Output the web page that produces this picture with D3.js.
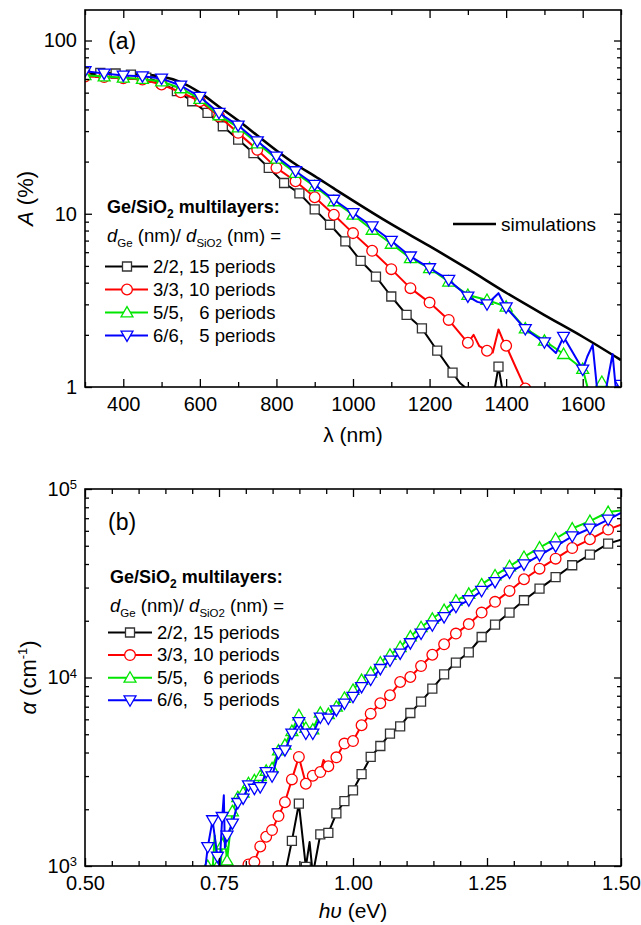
<!DOCTYPE html>
<html>
<head>
<meta charset="utf-8">
<script src="https://cdnjs.cloudflare.com/ajax/libs/d3/7.8.5/d3.min.js"></script>
<style>
  body { margin: 0; background: #fff; }
  text { font-family: "Liberation Sans", Arial, Helvetica, sans-serif; }
</style>
</head>
<body>
<div id="chart"></div>
<script>
var svgWidth = 641;
var svgHeight = 925;

// ---------- panel (a): A (%) vs wavelength (nm) ----------
var lambda40 = [300, 340, 380, 420, 460, 500, 540, 580, 620, 660, 700, 740, 780, 820, 860, 900,
  940, 980, 1020, 1060, 1100, 1140, 1180, 1220, 1260, 1300, 1340, 1380, 1420];
var lambda50 = [300, 350, 400, 450, 500, 550, 600, 650, 700, 750, 800, 850, 900, 950, 1000, 1050,
  1100, 1150, 1200, 1250, 1300, 1350, 1400, 1450, 1500, 1550, 1600, 1650, 1700];

var absA22 = [64, 65, 64.5, 63.5, 61, 57, 51, 44.6, 38.2, 32.0, 26.8, 22.4, 18.4, 15.05, 13.1, 10.6,
  8.64, 6.92, 5.35, 4.34, 3.33, 2.61, 2.18, 1.62, 1.21, 0.9, 0.9, 1.31, 0.9];
var absA33 = [62, 61.5, 60.5, 59.5, 55.7, 50.3, 44.6, 36.5, 29.3, 23.4, 18.4, 15.4, 12.45, 9.87, 7.73, 6.11,
  4.79, 3.72, 3.07, 2.44, 1.80, 1.62, 1.73, 0.98, null, null, null, null, null];
var absA55 = [63, 62, 61, 60, 58, 53, 46, 37, 31.5, 25.5, 20.8, 17.2, 14.4, 11.8, 9.87, 8.08,
  6.71, 5.54, 4.85, 4.06, 3.40, 3.18, 2.91, 2.18, 1.85, 1.55, 1.27, 1.07, null];
var absA66 = [66.5, 64.5, 62.8, 62.2, 60.3, 55.0, 47.3, 38.2, 32.3, 26.2, 21.4, 17.6, 14.7, 12.05, 10.1, 8.45,
  6.98, 5.67, 4.85, 4.15, 3.33, 3.0, 2.88, 2.16, 1.81, 1.95, 1.26, 0.9, 1.03];

// line-only points (spikes between markers)
var extraA22 = [[1280, 1.05], [1292, 1.0], [1370, 0.97], [1390, 0.97]];
var extraA33 = [[1315, 2.0], [1330, 1.72], [1365, 1.58], [1380, 2.15], [1390, 1.9], [1425, 1.3], [1440, 1.1], [1460, 0.9]];
var extraA55 = [[1614, 0.97], [1630, 0.95], [1665, 0.95]];
var extraA66 = [[1325, 3.1], [1380, 3.48], [1530, 1.57], [1612, 1.5], [1626, 1.75], [1637, 1.0],
  [1660, 0.95], [1678, 1.55], [1686, 1.0]];

var simLambda = [300, 350, 400, 450, 500, 550, 600, 650, 700, 750, 800, 850, 900, 950, 1000, 1100,
  1200, 1300, 1400, 1500, 1600, 1700];
var simAbs = [64, 64.5, 64, 63.5, 62, 57.5, 50, 41.5, 34.5, 28.3, 23.2, 19.3, 16.5, 14.0, 11.9, 8.7,
  6.5, 4.8, 3.5, 2.6, 1.95, 1.43];

// ---------- panel (b): alpha (cm-1) vs photon energy (eV) ----------
var energyB = [0.729, 0.738, 0.747, 0.756, 0.765, 0.775, 0.785, 0.795, 0.805, 0.816, 0.827, 0.838,
  0.849, 0.861, 0.873, 0.886, 0.899, 0.912, 0.925, 0.939, 0.954, 0.969, 0.984, 1.000, 1.016, 1.033,
  1.051, 1.069, 1.088, 1.107, 1.127, 1.148, 1.170, 1.192, 1.216, 1.240, 1.265, 1.292, 1.319, 1.348,
  1.378, 1.409, 1.442, 1.476];

var alphaB22 = [null, null, null, null, null, null, null, null, null, null, null, null, null, null,
  900, 1360, 2140, 990, 900, 1470, 1500, 1900, 2210, 2520, 3070, 3790, 4330, 5040, 5510, 6480,
  7450, 8730, 10400, 12000, 13600, 16400, 19100, 22100, 25700, 29600, 34100, 39400, 44900, 51300];
var alphaB33 = [null, null, null, null, null, null, null, 930, 1020, 1050, 1270, 1430, 1550, 1840,
  2180, 2880, 3790, 2730, 3010, 3150, 3380, 3770, 4460, 4600, 5580, 6430, 7300, 8050, 9460, 10060,
  11500, 13200, 15000, 17100, 19200, 22100, 25200, 28800, 33200, 37800, 42700, 48600, 54100, 60900];
var alphaB55 = [1000, 950, 1000, 1300, 1070, 1950, 2320, 2450, 2750, 2850, 3000, 3200, 3300, 4100,
  4400, 5200, 6300, 5400, 5300, 6500, 6400, 7000, 7800, 8600, 9700, 10600, 12000, 13200, 14500, 16500,
  18500, 20500, 22800, 25600, 27800, 31200, 34800, 38900, 43600, 48900, 54500, 61700, 67600, 75500];
var alphaB66 = [1260, 1750, 1120, 1820, 1450, 1680, 2160, 2280, 2680, 2570, 2620, 3150, 2990, 3970,
  4110, 5040, 5800, 5040, 5040, 6130, 6050, 6700, 7270, 7900, 8900, 9740, 11100, 12300, 13400, 15200,
  17100, 18900, 20900, 23700, 25700, 28800, 32100, 36000, 39800, 44500, 49700, 56100, 61700, 68800];

var extraB22 = [[0.919, 1340], [1.5, 53900]];
var extraB33 = [[0.945, 3650], [1.5, 64700]];
var extraB55 = [[0.742, 1450], [0.752, 950], [0.760, 1500], [1.5, 77000]];
var extraB66 = [[0.724, 950], [0.751, 980], [0.759, 2370], [0.761, 1250], [1.5, 74600]];

var legendNames = ["2/2, 15 periods", "3/3, 10 periods", "5/5,\u00a0\u00a0\u00a06 periods", "6/6,\u00a0\u00a0\u00a05 periods"];
var lineColors = ["#000000", "#ff0000", "#00e600", "#0000ff"];
var markColors = ["#333333", "#ff0000", "#00e600", "#0000ff"];
var markTypes = ["square", "circle", "up", "down"];

var svg = d3.select("#chart")
  .append("svg")
  .attr("width", svgWidth)
  .attr("height", svgHeight);

var defs = svg.append("defs");

function makeSeries(xs, ys, extra) {
  var pts = [];
  xs.forEach(function(x, i) {
    if (ys[i] != null) pts.push({x: x, y: ys[i], m: true});
  });
  extra.forEach(function(p) { pts.push({x: p[0], y: p[1], m: false}); });
  pts.sort(function(a, b) { return a.x - b.x; });
  return pts;
}

var symSquare = d3.symbol().type(d3.symbolSquare).size(81);
var symCircle = d3.symbol().type(d3.symbolCircle).size(90);
var symTri = d3.symbol().type(d3.symbolTriangle).size(62);

function addMarker(g, type, cx, cy, color) {
  var p = g.append("path")
    .attr("fill", "#fff")
    .attr("stroke", color)
    .attr("stroke-width", 1.3);
  if (type == "square") p.attr("d", symSquare()).attr("transform", `translate(${cx},${cy})`);
  if (type == "circle") p.attr("d", symCircle()).attr("transform", `translate(${cx},${cy})`);
  if (type == "up") p.attr("d", symTri()).attr("transform", `translate(${cx},${cy + 1})`);
  if (type == "down") p.attr("d", symTri()).attr("transform", `translate(${cx},${cy - 1}) rotate(180)`);
}

function drawFrame(g, x, y, w, h, xMajor, xMinor, yMajor, yMinor, xFmt) {
  var tickFont = 20;
  // bottom
  var bMin = g.append("g").attr("transform", `translate(0,${h})`)
    .call(d3.axisBottom(x).tickValues(xMinor).tickSize(-5).tickFormat(""));
  var bMaj = g.append("g").attr("transform", `translate(0,${h})`)
    .call(d3.axisBottom(x).tickValues(xMajor).tickSize(-8).tickPadding(10).tickFormat(xFmt));
  bMaj.selectAll("text").attr("font-size", tickFont).attr("font-family", null);
  // top
  var tMin = g.append("g").call(d3.axisTop(x).tickValues(xMinor).tickSize(-5).tickFormat(""));
  var tMaj = g.append("g").call(d3.axisTop(x).tickValues(xMajor).tickSize(-8).tickFormat(""));
  // left
  var lMin = g.append("g").call(d3.axisLeft(y).tickValues(yMinor).tickSize(-4).tickFormat(""));
  var lMaj = g.append("g").call(d3.axisLeft(y).tickValues(yMajor).tickSize(-7).tickPadding(8));
  lMaj.selectAll("text").attr("font-size", tickFont).attr("font-family", null);
  // right
  var rMin = g.append("g").attr("transform", `translate(${w},0)`)
    .call(d3.axisRight(y).tickValues(yMinor).tickSize(-4).tickFormat(""));
  var rMaj = g.append("g").attr("transform", `translate(${w},0)`)
    .call(d3.axisRight(y).tickValues(yMajor).tickSize(-7).tickFormat(""));

  [bMin, bMaj, tMin, tMaj, lMin, lMaj, rMin, rMaj].forEach(function(a) {
    a.select(".domain").remove();
    a.selectAll("line").attr("stroke-width", 1.3);
  });

  g.append("rect")
    .attr("width", w)
    .attr("height", h)
    .attr("fill", "none")
    .attr("stroke", "#000")
    .attr("stroke-width", 1.6);
  return lMaj;
}

function drawData(g, clipId, x, y, seriesList) {
  var plot = g.append("g").attr("clip-path", `url(#${clipId})`);
  var line = d3.line().x(d => x(d.x)).y(d => y(d.y));
  seriesList.forEach(function(s, i) {
    plot.append("path")
      .datum(s)
      .attr("fill", "none")
      .attr("stroke", lineColors[i])
      .attr("stroke-width", 2)
      .attr("stroke-linejoin", "round")
      .attr("d", line);
    s.filter(d => d.m).forEach(function(d) {
      addMarker(plot, markTypes[i], x(d.x), y(d.y), markColors[i]);
    });
  });
  return plot;
}

function drawLegend(left, top, lineX0, lineX1, markX, textX, rowBase, rowGap) {
  var t1 = svg.append("text")
    .attr("x", left).attr("y", top)
    .attr("font-size", 18).attr("font-weight", "bold");
  t1.append("tspan").text("Ge/SiO");
  t1.append("tspan").attr("font-size", 12).attr("dy", 5).text("2");
  t1.append("tspan").attr("dy", -5).text(" multilayers:");

  var t2 = svg.append("text")
    .attr("x", left).attr("y", top + 29)
    .attr("font-size", 18.5);
  t2.append("tspan").attr("font-style", "italic").text("d");
  t2.append("tspan").attr("font-size", 11.5).attr("dy", 5).text("Ge");
  t2.append("tspan").attr("dy", -5).text(" (nm)/ ");
  t2.append("tspan").attr("font-style", "italic").text("d");
  t2.append("tspan").attr("font-size", 11.5).attr("dy", 5).text("SiO2");
  t2.append("tspan").attr("dy", -5).text(" (nm) =");

  legendNames.forEach(function(name, i) {
    var by = rowBase + i * rowGap;
    var ly = by - 6;
    svg.append("line")
      .attr("x1", lineX0).attr("x2", lineX1)
      .attr("y1", ly).attr("y2", ly)
      .attr("stroke", lineColors[i]).attr("stroke-width", 2);
    addMarker(svg, markTypes[i], markX, ly, markColors[i]);
    svg.append("text")
      .attr("x", textX).attr("y", by)
      .attr("font-size", 18.5)
      .text(name);
  });
}

// ================= panel (a) =================
var marginA = {left: 85, top: 10};
var widthA = 536, heightA = 377;
var gA = svg.append("g").attr("transform", `translate(${marginA.left}, ${marginA.top})`);
defs.append("clipPath").attr("id", "clipA").append("rect").attr("width", widthA).attr("height", heightA);

var xA = d3.scaleLinear().domain([300, 1700]).range([0, widthA]);
var yA = d3.scaleLog().domain([1, 150]).range([heightA, 0]);

var seriesA = [
  makeSeries(lambda40, absA22, extraA22),
  makeSeries(lambda50, absA33, extraA33),
  makeSeries(lambda50, absA55, extraA55),
  makeSeries(lambda50, absA66, extraA66)
];
var simSeries = simLambda.map((l, i) => ({x: l, y: simAbs[i]}));

var plotA = gA.append("g").attr("clip-path", "url(#clipA)");
plotA.append("path")
  .datum(simSeries)
  .attr("fill", "none")
  .attr("stroke", "#000")
  .attr("stroke-width", 2.6)
  .attr("d", d3.line().x(d => xA(d.x)).y(d => yA(d.y)).curve(d3.curveMonotoneX));
drawData(gA, "clipA", xA, yA, seriesA);

drawFrame(gA, xA, yA, widthA, heightA,
  [400, 600, 800, 1000, 1200, 1400, 1600],
  [300, 500, 700, 900, 1100, 1300, 1500, 1700],
  [1, 10, 100],
  [2, 3, 4, 5, 6, 7, 8, 9, 20, 30, 40, 50, 60, 70, 80, 90],
  d3.format("d"));

gA.append("text")
  .attr("x", 23).attr("y", 39)
  .attr("font-size", 23)
  .text("(a)");

svg.append("text")
  .attr("transform", `translate(${marginA.left + widthA / 2}, 442)`)
  .attr("text-anchor", "middle")
  .attr("font-size", 21)
  .text("\u03bb (nm)");

var yTitleA = svg.append("text")
  .attr("transform", `translate(33, ${marginA.top + heightA / 2}) rotate(-90)`)
  .attr("text-anchor", "middle")
  .attr("font-size", 22);
yTitleA.append("tspan").attr("font-style", "italic").text("A");
yTitleA.append("tspan").text(" (%)");

drawLegend(107, 213, 105, 148, 127, 153, 272.5, 23);

svg.append("line")
  .attr("x1", 453).attr("x2", 496)
  .attr("y1", 224).attr("y2", 224)
  .attr("stroke", "#000").attr("stroke-width", 2.4);
svg.append("text")
  .attr("x", 501).attr("y", 231)
  .attr("font-size", 19)
  .text("simulations");

// ================= panel (b) =================
var marginB = {left: 85, top: 489};
var widthB = 536, heightB = 377;
var gB = svg.append("g").attr("transform", `translate(${marginB.left}, ${marginB.top})`);
defs.append("clipPath").attr("id", "clipB").append("rect").attr("width", widthB).attr("height", heightB);

var xB = d3.scaleLinear().domain([0.5, 1.5]).range([0, widthB]);
var yB = d3.scaleLog().domain([1000, 100000]).range([heightB, 0]);

var seriesB = [
  makeSeries(energyB, alphaB22, extraB22),
  makeSeries(energyB, alphaB33, extraB33),
  makeSeries(energyB, alphaB55, extraB55),
  makeSeries(energyB, alphaB66, extraB66)
];
drawData(gB, "clipB", xB, yB, seriesB);

var minorB = [];
[1000, 10000].forEach(function(dec) {
  [2, 3, 4, 5, 6, 7, 8, 9].forEach(function(k) { minorB.push(k * dec); });
});
var lB = drawFrame(gB, xB, yB, widthB, heightB,
  [0.5, 0.75, 1.0, 1.25, 1.5],
  [0.55, 0.6, 0.65, 0.7, 0.8, 0.85, 0.9, 0.95, 1.05, 1.1, 1.15, 1.2, 1.3, 1.35, 1.4, 1.45],
  [1000, 10000, 100000],
  minorB,
  d3.format(".2f"));

lB.selectAll(".tick text").each(function(d) {
  var t = d3.select(this);
  t.text("10");
  t.append("tspan")
    .attr("dy", "-0.5em")
    .attr("font-size", 13)
    .text(Math.round(Math.log10(d)));
});

gB.append("text")
  .attr("x", 23).attr("y", 41)
  .attr("font-size", 23)
  .text("(b)");

var xTitleB = svg.append("text")
  .attr("transform", `translate(${marginB.left + widthB / 2}, 918)`)
  .attr("text-anchor", "middle")
  .attr("font-size", 21);
xTitleB.append("tspan").attr("font-style", "italic").text("h\u03c5");
xTitleB.append("tspan").text(" (eV)");

var yTitleB = svg.append("text")
  .attr("transform", `translate(36, ${marginB.top + heightB / 2}) rotate(-90)`)
  .attr("text-anchor", "middle")
  .attr("font-size", 22);
yTitleB.append("tspan").attr("font-style", "italic").text("\u03b1");
yTitleB.append("tspan").text(" (cm");
yTitleB.append("tspan").attr("font-size", 13).attr("dy", -9).text("-1");
yTitleB.append("tspan").attr("dy", 9).text(")");

drawLegend(110, 583, 108, 152, 130, 157, 638.5, 22.6);
</script>
</body>
</html>
